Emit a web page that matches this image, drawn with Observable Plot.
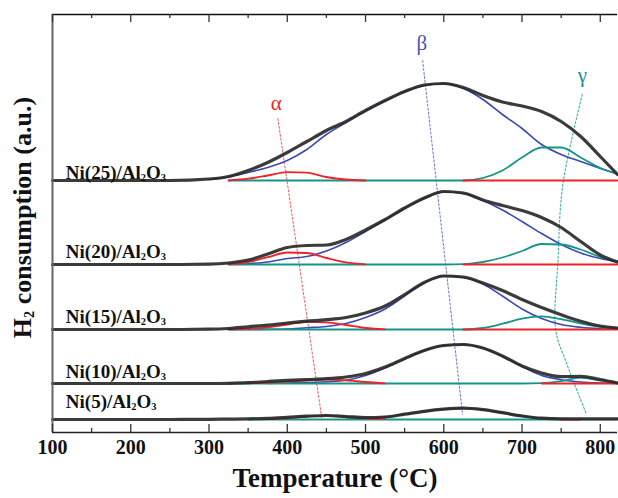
<!DOCTYPE html>
<html><head><meta charset="utf-8">
<script src="https://cdn.jsdelivr.net/npm/d3@7"></script>
<script src="https://cdn.jsdelivr.net/npm/@observablehq/plot@0.6"></script>
<style>html,body{margin:0;padding:0;background:#fff;} svg{display:block;}</style>
</head><body><div id="chart"></div>
<script>
const _ = null;
// temperature grid (°C)
const temps = [100,200,250,300,325,350,375,400,425,450,475,500,525,550,575,600,625,650,675,700,725,750,775,800,822];

const sampleNames = ["Ni(25)/Al₂O₃","Ni(20)/Al₂O₃","Ni(15)/Al₂O₃","Ni(10)/Al₂O₃","Ni(5)/Al₂O₃"];
const offsets = [252,168,103,49,13];
const labelLift = [8,13,13,12,18];

// Ni(25)
const black25 = [0,0,0,1.5,4,10,18,28,39,50,59,70,80,89,95.5,97,93,85,78.5,74.5,69,59,44,24,6];
const blue25  = [_,_,_,1,3.5,8,13,20,31,46,58,69.5,79.5,88.5,95,97,92,81,66,52,36,26,19,12,6.5];
const teal25  = [_,_,_,_,0,0,0,0,0,0,0,0,0,0,0,0,0,2.5,10,23,33,33,23,12.5,6.5];
const red25   = [_,_,_,_,0,1.8,5,8.4,7.8,3.5,1,0,_,_,_,_,0,0,0,0,0,0,0,0,0];
// Ni(20)
const black20 = [0,0,0,0.3,1.5,4.5,10.5,17,19,19.5,25,34.5,45,56.5,66.5,73,71.5,64.5,59,54,47,37,23,9.5,2.5];
const blue20  = [_,_,_,_,0,0.8,2.5,6,8,13.5,22,33,44.5,56,66,72.5,71,64,54.5,43,31,20,11.5,6,3];
const teal20  = [_,_,_,_,0,0,0,0,0,0,0,0,0,0,0,0,0.3,2.5,7,13.5,20.5,20,15,7.5,3];
const red20   = [_,_,_,_,0.3,2.5,7.3,12,11.5,6.5,2.2,0.2,_,_,_,_,0,0,0,0,0,0,0,0,0];
// Ni(15)
const black15 = [0,0,0,0.3,1,2.7,4.3,6.5,8.3,9.8,12,16.5,23.5,35,47,53.5,52.5,46.5,39,30,22,14.8,8.3,3.5,1.5];
const blue15  = [_,_,_,_,0,0,0.2,0.5,1.8,3,6,12,20.5,33.5,46.5,53.5,52,45.5,33.5,20.5,11,5,2.2,0.8,0.3];
const teal15  = [_,_,_,_,0,0,0,0,0,0,0,0,0,0,0,0,0,1.5,5.8,10.8,13.2,10.3,6,2.6,1.2];
const red15   = [_,_,_,_,0.2,0.7,2.2,5,7.7,7.2,4.5,1.5,0.2,_,_,_,0,0,0,0,0,0,0,0,0];
// Ni(10)
const black10 = [0,0,0,0,0.2,0.8,2,3.1,4,4.8,6.5,10,16.5,25,33,38,39,35.5,27.5,17.5,10.5,6.8,7.2,4,0.5];
const blue10  = [_,_,_,_,_,_,0,0.5,1,1.8,3.3,8,15.5,24.5,33,38,39,35.5,27,17,8,3.8,1.5,0.5,0];
const teal10  = [_,_,_,_,0,0,0,0,0,0,0,0,0,0,0,0,0,0,0,0,0.3,2.3,5.8,3,0.5];
const red10   = [_,_,_,_,_,0.2,0.8,1.8,3,4,3.2,1.5,0.2,_,_,_,_,_,_,_,0,0,0,0,0];
// Ni(5)
const black5  = [0,0,0,0.2,0.4,0.6,1.2,2.2,3.3,4,3,2,2.5,5.3,8.2,10.3,11.3,9.8,6.8,3.5,1.3,0.7,0.7,0.7,0.7];
const blue5   = [_,_,_,_,_,_,_,_,_,_,0.3,1.2,2.5,5.2,8,10.2,11.2,9.7,6.6,3.4,1.2,0.4,0.1,0,0];
const teal5   = [_,_,_,_,_,0,0,0,0,0,0,0,0,0,0,0,0,0,0,0,0,0,_,_,_];
const red5    = [_,_,_,_,_,_,0.3,1.5,3,3.8,2.8,1.2,0.3,_,_,_,_,_,_,_,_,0,0,_,_];

// peak guide lines
const alphaGuideT = [388, 444];
const alphaGuideY = [314, 15];
const betaGuideT = [573, 624];
const betaGuideY = [372, 18];
const gammaGuideT = [777, 752, 746, 743, 757, 782];
const gammaGuideY = [338, 247, 172, 103, 69, 19];
const peakNames = ["α","β","γ"];
const peakLabelT = [386, 572, 777];
const peakLabelY = [329, 389, 357];

const xMajorTicks = [100,200,300,400,500,600,700,800];
const xMinorTicks = [150,250,350,450,550,650,750];

const COLORS = {black: "#2a2a2a", blue: "#3a4aae", teal: "#159488", red: "#ee2328"};
const GUIDE = {red: "#f2676a", blue: "#7282d0", teal: "#3fb2a8"};

const series = {
  black: [black25, black20, black15, black10, black5],
  blue:  [blue25, blue20, blue15, blue10, blue5],
  teal:  [teal25, teal20, teal15, teal10, teal5],
  red:   [red25, red20, red15, red10, red5]
};
function rows(comp) {
  const out = [];
  series[comp].forEach((arr, s) => {
    arr.forEach((v, i) => out.push({sample: s, T: temps[i], y: v == null ? NaN : offsets[s] + v}));
  });
  return out;
}
const guide = (T, Y) => T.map((t, i) => ({T: t, y: Y[i]}));

const font = '"Liberation Serif","Times New Roman",serif';
const plot = Plot.plot({
  width: 618, height: 498,
  marginLeft: 52, marginRight: 1, marginTop: 14, marginBottom: 66,
  x: {domain: [100, 822], axis: null},
  y: {domain: [0, 418], axis: null},
  style: {fontFamily: font, background: "#fff", color: "#111"},
  marks: [
    Plot.line(guide(alphaGuideT, alphaGuideY), {x: "T", y: "y", stroke: GUIDE.red, strokeWidth: 1.1, strokeDasharray: "2,2"}),
    Plot.line(guide(betaGuideT, betaGuideY), {x: "T", y: "y", stroke: GUIDE.blue, strokeWidth: 1.1, strokeDasharray: "2,2"}),
    Plot.line(guide(gammaGuideT, gammaGuideY), {x: "T", y: "y", stroke: GUIDE.teal, strokeWidth: 1.1, strokeDasharray: "2,2", curve: "catmull-rom"}),
    Plot.line(rows("blue"), {x: "T", y: "y", z: "sample", stroke: COLORS.blue, strokeWidth: 1.6, curve: "monotone-x"}),
    Plot.line(rows("teal"), {x: "T", y: "y", z: "sample", stroke: COLORS.teal, strokeWidth: 1.8, curve: "monotone-x"}),
    Plot.line(rows("red"), {x: "T", y: "y", z: "sample", stroke: COLORS.red, strokeWidth: 1.8, curve: "monotone-x"}),
    Plot.line(rows("black"), {x: "T", y: "y", z: "sample", stroke: COLORS.black, strokeWidth: 3.2, strokeOpacity: 0.92, curve: "monotone-x"}),
    Plot.ruleY([0], {stroke: "#222", strokeWidth: 1.5}),
    Plot.ruleY([418], {stroke: "#111", strokeWidth: 1.5}),
    Plot.ruleX([100], {stroke: "#666", strokeWidth: 2}),
    Plot.ruleX(xMajorTicks, {x: d => d, y1: 0, y2: 8, stroke: "#333", strokeWidth: 1.3}),
    Plot.ruleX(xMinorTicks, {x: d => d, y1: 0, y2: 4, stroke: "#333", strokeWidth: 1.3}),
    Plot.ruleX(xMajorTicks, {x: d => d, y1: 410, y2: 418, stroke: "#333", strokeWidth: 1.3}),
    Plot.ruleX(xMinorTicks, {x: d => d, y1: 414, y2: 418, stroke: "#333", strokeWidth: 1.3}),
    Plot.text(xMajorTicks, {x: d => d, frameAnchor: "bottom", dy: 21, text: d => String(d), fontSize: 20, fontWeight: "bold", fill: "#111"}),
    Plot.text(["Temperature (°C)"], {frameAnchor: "bottom", dy: 54, text: d => d, fontSize: 27, fontWeight: "bold", fill: "#111"}),
    Plot.text(["H₂ consumption (a.u.)"], {frameAnchor: "left", textAnchor: "middle", dx: -30, dy: -6, rotate: -90, text: d => d, fontSize: 26, fontWeight: "bold", fill: "#111"}),
    Plot.text(sampleNames, {x: () => 117, y: (d, i) => offsets[i] + labelLift[i], text: d => d, textAnchor: "start", fontSize: 19, fontWeight: "bold", fill: "#111"}),
    Plot.text(peakNames, {x: (d, i) => peakLabelT[i], y: (d, i) => peakLabelY[i], text: d => d, fontSize: 21, fill: (d, i) => [COLORS.red, "#4a55b0", COLORS.teal][i]})
  ]
});
// render subscript digits as small lowered tspans
const SUB = {"₂": "2", "₃": "3"};
plot.querySelectorAll("text").forEach(t => {
  const s = t.textContent;
  if (!/[₂₃]/.test(s)) return;
  while (t.firstChild) t.removeChild(t.firstChild);
  let lowered = false;
  for (const ch of s) {
    const ts = document.createElementNS("http://www.w3.org/2000/svg", "tspan");
    if (SUB[ch]) {
      ts.textContent = SUB[ch];
      ts.setAttribute("font-size", "55%");
      if (!lowered) { ts.setAttribute("dy", "0.2em"); lowered = true; }
    } else {
      ts.textContent = ch;
      if (lowered) { ts.setAttribute("dy", "-0.11em"); lowered = false; }
    }
    t.appendChild(ts);
  }
});
document.getElementById("chart").appendChild(plot);
</script>
</body></html>
